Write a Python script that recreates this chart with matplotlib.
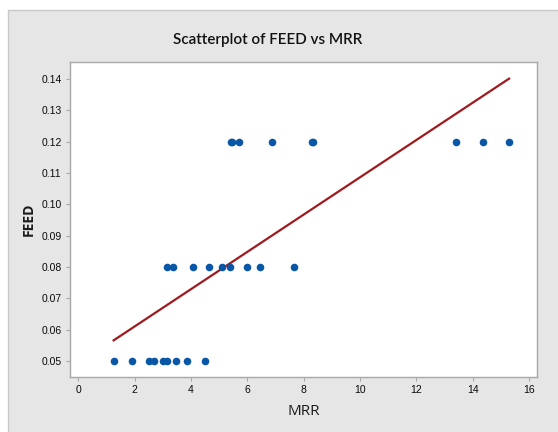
import numpy as np
import matplotlib
matplotlib.use("Agg")
import matplotlib.pyplot as plt
from matplotlib.patches import Rectangle

# Data
mrr = [1.25, 1.90, 2.49, 2.69, 2.99, 3.14, 3.47, 3.85, 4.50,
       3.15, 3.35, 4.06, 4.62, 5.11, 5.37, 5.99, 6.43, 7.66,
       5.41, 5.45, 5.71, 6.88, 8.28, 8.33, 13.40, 14.36, 15.29]
feed = [0.05] * 9 + [0.08] * 9 + [0.12] * 9
x_ticks = [0, 2, 4, 6, 8, 10, 12, 14, 16]
y_ticks = [0.05, 0.06, 0.07, 0.08, 0.09, 0.10, 0.11, 0.12, 0.13, 0.14]
title = "Scatterplot of FEED vs MRR"

W, H = 558, 432
fig = plt.figure(figsize=(W / 100, H / 100), dpi=100)
fig.patch.set_facecolor("white")
# gray panel
panel = Rectangle((8 / W, -0.01), 1 - 8 / W + 0.01, 1 - 10 / H + 0.01, transform=fig.transFigure,
                  facecolor="#e6e6e6", edgecolor="#c8c8c8", linewidth=1, zorder=-5)
fig.add_artist(panel)

ax = fig.add_axes([70 / W, 1 - 377 / H, (537 - 70) / W, (377 - 62) / H])
ax.set_zorder(2)
ax.set_facecolor("white")

ax.scatter(mrr, feed, s=30, color="#0856a6", zorder=3, linewidths=0)

coef = np.polyfit(mrr, feed, 1)
xs = np.array([min(mrr), max(mrr)])
ax.plot(xs, np.polyval(coef, xs), color="#a01a1e", linewidth=1.6, zorder=2)

ax.set_xlim(-0.3, 16.28)
ax.set_ylim(0.0449, 0.1454)
ax.set_xticks(x_ticks)
ax.set_yticks(y_ticks)
ax.set_xticklabels([str(t) for t in x_ticks])
ax.set_yticklabels([f"{t:.2f}" for t in y_ticks])

for s in ax.spines.values():
    s.set_color("#a8a8a8")
    s.set_linewidth(1)
ax.tick_params(direction="out", length=3, width=0.8, color="#a8a8a8",
               labelsize=7.5, labelcolor="#0a0a0a", pad=3)
for lab in ax.get_xticklabels() + ax.get_yticklabels():
    lab.set_family(["Liberation Sans", "DejaVu Sans"])

ax.set_xlabel("MRR", fontsize=11, color="#1a1a1a", family=["Open Sans", "DejaVu Sans"], labelpad=6)
ax.set_ylabel("FEED", fontsize=10, fontweight="bold", color="#1a1a1a",
              family=["Open Sans", "DejaVu Sans"], labelpad=4)
fig.text(267.5 / W, 1 - 40 / H, title, ha="center", va="center", fontsize=11,
         fontweight="semibold", color="#111111", family=["Lato", "DejaVu Sans"])

fig.savefig("out.png", dpi=100)
